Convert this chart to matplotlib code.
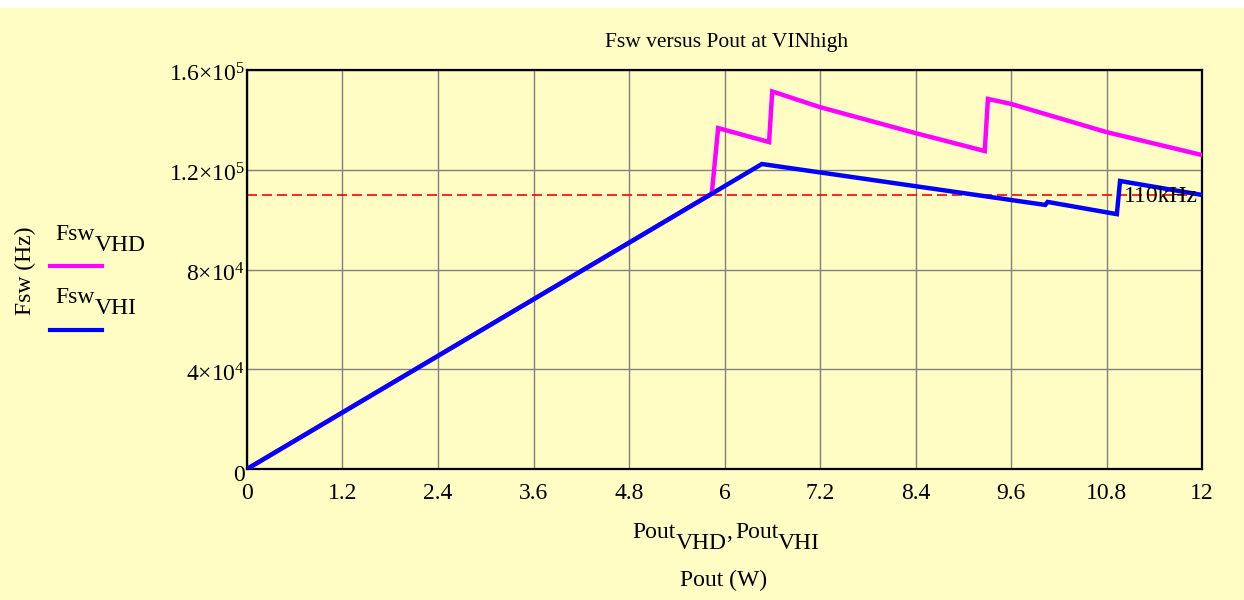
#!/usr/bin/env python3
"""
Fsw versus Pout at VINhigh - Mathcad style plot
"""

import matplotlib
matplotlib.use('Agg')
import matplotlib.pyplot as plt
import matplotlib.transforms as mtransforms
from matplotlib.lines import Line2D
from matplotlib.patches import Rectangle

# Data (Pout in W, Fsw in Hz)
pout_vhd = [0, 5.84, 5.92, 6.56, 6.60, 7.2, 8.4, 9.27, 9.31, 9.6, 10.8, 12.0]
fsw_vhd = [0, 1.104e5, 1.367e5, 1.311e5, 1.514e5, 1.451e5, 1.347e5,
           1.275e5, 1.484e5, 1.464e5, 1.351e5, 1.259e5]

pout_vhi = [0, 6.47, 10.03, 10.06, 10.93, 10.97, 12.0]
fsw_vhi = [0, 1.223e5, 1.059e5, 1.071e5, 1.022e5, 1.155e5, 1.099e5]

limit_hz = 1.1e5
limit_label = '110kHz'

x_ticks = [0, 1.2, 2.4, 3.6, 4.8, 6, 7.2, 8.4, 9.6, 10.8, 12]
x_tick_labels = ['0', '1.2', '2.4', '3.6', '4.8', '6', '7.2', '8.4', '9.6', '10.8', '12']
y_ticks = [0, 4e4, 8e4, 1.2e5, 1.6e5]
y_tick_labels = ['0', '4×10$^{4}$', '8×10$^{4}$', '1.2×10$^{5}$', '1.6×10$^{5}$']

title = 'Fsw versus Pout at VINhigh'

plt.rcParams['font.family'] = ['Liberation Serif', 'DejaVu Serif']
plt.rcParams['mathtext.fontset'] = 'custom'
plt.rcParams['mathtext.rm'] = 'Liberation Serif'
plt.rcParams['mathtext.it'] = 'Liberation Serif:italic'
plt.rcParams['mathtext.bf'] = 'Liberation Serif:bold'

W, H = 1244, 600
BG = '#FFFDC4'
FS = 17

fig = plt.figure(figsize=(W / 100, H / 100), dpi=100, facecolor='white')
# yellow sheet below a thin white strip
fig.add_artist(Rectangle((0, 0), 1, 1 - 8 / H, transform=fig.transFigure,
                         facecolor=BG, edgecolor='none', zorder=-10))

ax = fig.add_axes([247 / W, (H - 469) / H, (1202 - 247) / W, (469 - 70) / H])
ax.set_facecolor(BG)

ax.plot(pout_vhd, fsw_vhd, color='#FF00FF', lw=3.2, solid_joinstyle='miter', zorder=3)
ax.plot(pout_vhi, fsw_vhi, color='#0000FF', lw=3.2, solid_joinstyle='miter', zorder=4)
ax.axhline(limit_hz, color='#FF0000', lw=1.2, dashes=(6, 3), zorder=2)
ax.annotate(limit_label, xy=(12, limit_hz), xytext=(-3, -1), textcoords='offset points',
            ha='right', va='center', fontsize=FS, zorder=5)

ax.set_xlim(0, 12)
ax.set_ylim(0, 1.6e5)
ax.set_xticks(x_ticks)
ax.set_xticklabels(x_tick_labels, fontsize=FS)
ax.set_yticks(y_ticks)
ax.set_yticklabels(y_tick_labels, fontsize=FS, va='baseline')
ax.tick_params(axis='both', length=0)
ax.tick_params(axis='x', pad=10)
ax.tick_params(axis='y', pad=1.5)
shift = mtransforms.ScaledTranslation(0, -12 / 100, fig.dpi_scale_trans)
for lab in ax.get_yticklabels():
    lab.set_transform(lab.get_transform() + shift)

ax.grid(True, color='#808080', lw=1)
ax.set_axisbelow(True)
for sp in ax.spines.values():
    sp.set_linewidth(1.6)
    sp.set_color('black')

# title and axis titles
fig.text(727 / W, 1 - 42 / H, title, ha='center', va='center', fontsize=15.5)
fig.text(25 / W, 1 - 271 / H, 'Fsw (Hz)', rotation=90, ha='center', va='center', fontsize=FS)
fig.text(724 / W, 1 - 580 / H, 'Pout (W)', ha='center', va='center', fontsize=FS)


def chain_text(x0, y0, segments, drop=11):
    """Draw Mathcad-like names with full size lowered subscripts."""
    prev = None
    for s, is_sub, dx in segments:
        yf = 1 - (y0 + (drop if is_sub else 0)) / H
        if prev is None:
            t = fig.text(x0 / W, yf, s, va='baseline', ha='left', fontsize=FS)
        else:
            t = ax.annotate(s, xy=(1, yf), xycoords=(prev, 'figure fraction'),
                            xytext=(dx, 0), textcoords='offset points',
                            va='baseline', ha='left', fontsize=FS,
                            annotation_clip=False)
        prev = t


chain_text(632, 538, [('Pout', False, 0), ('VHD', True, 0), (',', False, 0),
                      ('Pout', False, 2), ('VHI', True, 0)])

# legend at left
chain_text(55, 240, [('Fsw', False, 0), ('VHD', True, 0)])
chain_text(55, 303, [('Fsw', False, 0), ('VHI', True, 0)])
fig.add_artist(Line2D([50 / W, 102 / W], [1 - 266 / H, 1 - 266 / H],
                      transform=fig.transFigure, color='#FF00FF', lw=3))
fig.add_artist(Line2D([50 / W, 102 / W], [1 - 330 / H, 1 - 330 / H],
                      transform=fig.transFigure, color='#0000FF', lw=3))

fig.savefig('out.png', dpi=100, facecolor='white')
plt.close(fig)
